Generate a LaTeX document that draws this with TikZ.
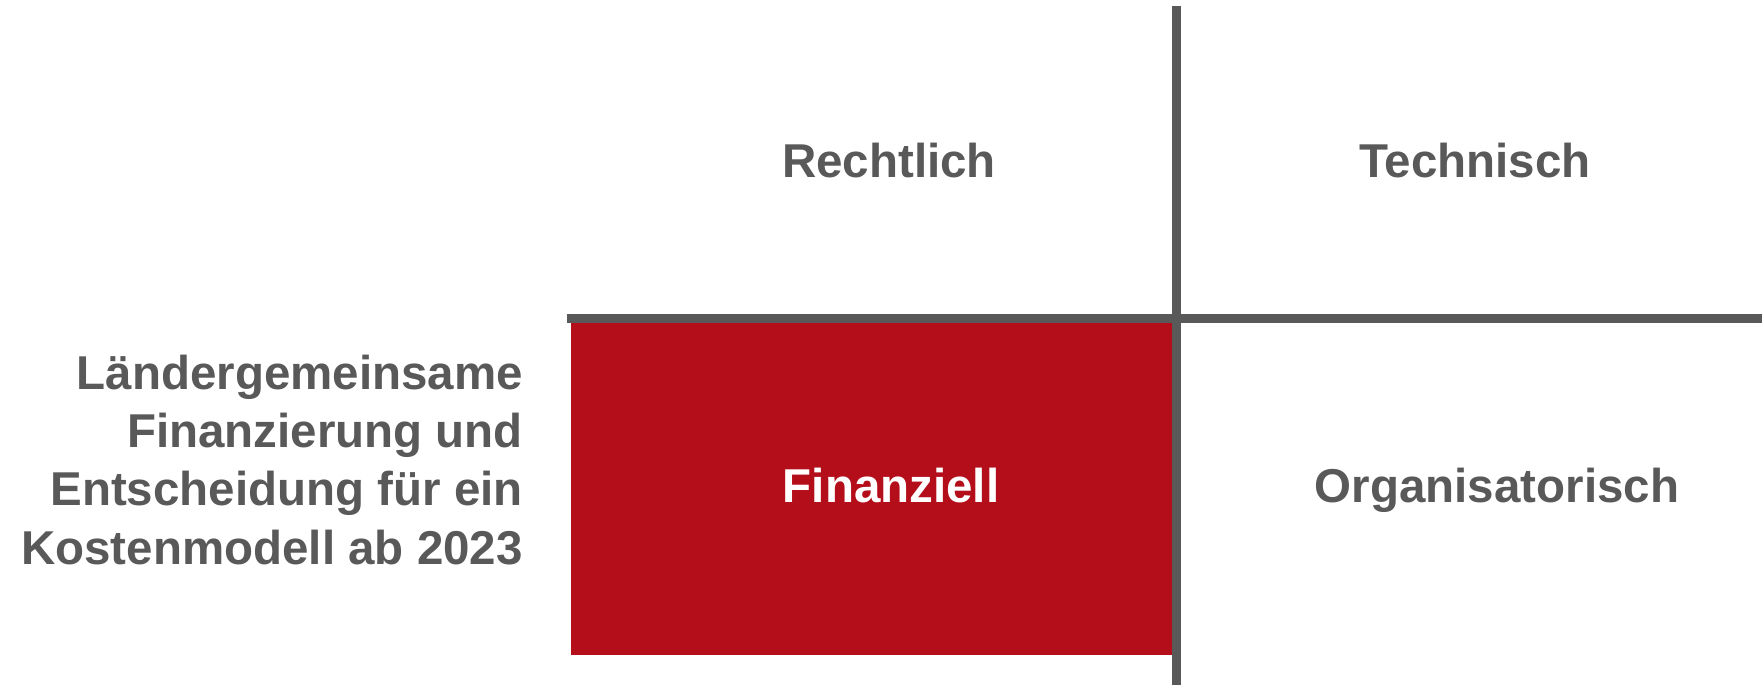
\documentclass[tikz,border=0pt]{standalone}
\usepackage{fontspec}
\setmainfont{Liberation Sans}
\definecolor{linegray}{HTML}{595959}
\definecolor{textgray}{HTML}{595959}
\definecolor{boxred}{HTML}{B40E1B}
\begin{document}
\begin{tikzpicture}[x=1pt,y=-1pt,
  lbl/.style={font=\fontsize{47.5}{58.3}\selectfont\bfseries, text=textgray, inner sep=0pt},
  divider/.style={draw=linegray, line width=9pt}]
\useasboundingbox (0,0) rectangle (1762,685);
\fill[boxred] (571,314) rectangle (1172,655);
\coordinate (hl) at (567,318.8);
\coordinate (hr) at (1762,318.8);
\coordinate (vt) at (1176.2,6);
\coordinate (vb) at (1176.2,685);
\draw[divider] (hl) -- (hr);
\draw[divider] (vt) -- (vb);
\node[lbl, anchor=base] (recht) at (889,177) {Rechtlich};
\node[lbl, anchor=base] (tech) at (1475,177) {Technisch};
\node[lbl, anchor=base, text=white] (fin) at (891,502) {Finanziell};
\node[lbl, anchor=base] (org) at (1497,502) {Organisatorisch};
\node[lbl, anchor=base east, align=right] (left) at (523,564) {Ländergemeinsame\\Finanzierung und\\Entscheidung für ein\\Kostenmodell ab 2023};
\end{tikzpicture}
\end{document}
